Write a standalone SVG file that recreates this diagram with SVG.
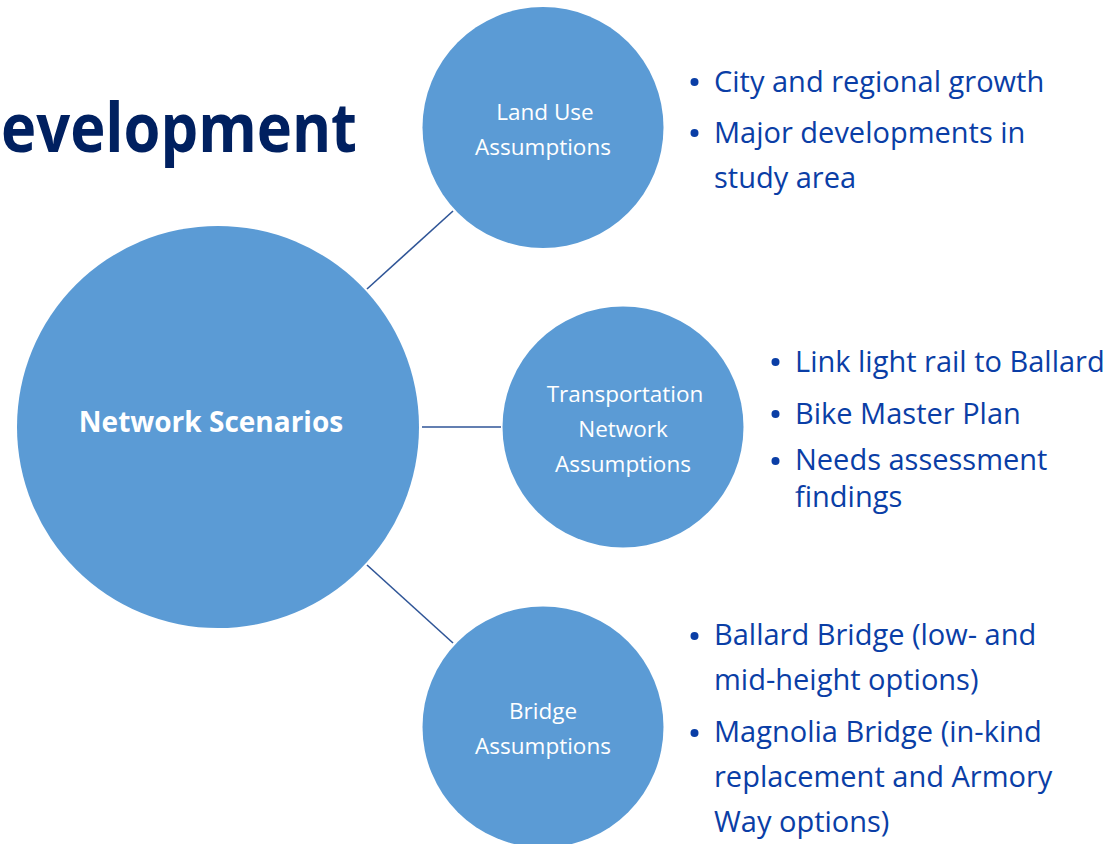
<svg xmlns="http://www.w3.org/2000/svg" width="1119" height="844" viewBox="0 0 1119 844">
<style>
.node{fill:#5b9bd5}
.lbl{font-family:"Open Sans","Noto Sans",sans-serif;font-size:22.5px;fill:#ffffff;text-anchor:middle}
.lbl.main{font-size:28px;font-weight:bold}
.bul{font-family:"Open Sans","Noto Sans",sans-serif;font-size:29px;fill:#0a3ea6}
.dot{fill:#0a3ea6}
.conn line{stroke:#2f5597;stroke-width:1.6}
</style>
<rect width="1119" height="844" fill="#ffffff"/>
<text x="1" y="152" font-family="Open Sans, Noto Sans, sans-serif" font-weight="bold" font-size="68" fill="#002060" textLength="356" lengthAdjust="spacingAndGlyphs">evelopment</text>
<g class="conn">
<line x1="367" y1="289" x2="453" y2="211"/>
<line x1="422" y1="427" x2="501" y2="427"/>
<line x1="367" y1="565" x2="453" y2="643"/>
</g>
<g id="network-scenarios">
<circle class="node" cx="218" cy="427" r="201"/>
<text class="lbl main" x="211" y="432">Network Scenarios</text>
</g>
<g id="land-use">
<circle class="node" cx="543" cy="127.5" r="120.5"/>
<text class="lbl" x="545" y="120">Land Use</text>
<text class="lbl" x="543" y="155">Assumptions</text>
</g>
<g id="transportation">
<circle class="node" cx="623" cy="427" r="120.5"/>
<text class="lbl" x="625" y="402">Transportation</text>
<text class="lbl" x="623" y="437">Network</text>
<text class="lbl" x="623" y="472">Assumptions</text>
</g>
<g id="bridge">
<circle class="node" cx="543" cy="727" r="120.5"/>
<text class="lbl" x="543" y="719">Bridge</text>
<text class="lbl" x="543" y="754">Assumptions</text>
</g>
<g id="land-use-bullets">
<circle class="dot" cx="694.5" cy="82" r="4"/>
<text class="bul" x="714" y="92">City and regional growth</text>
<circle class="dot" cx="694.5" cy="133" r="4"/>
<text class="bul" x="714" y="143">Major developments in</text>
<text class="bul" x="714" y="188">study area</text>
</g>
<g id="transportation-bullets">
<circle class="dot" cx="775.5" cy="362" r="4"/>
<text class="bul" x="795" y="372">Link light rail to Ballard</text>
<circle class="dot" cx="775.5" cy="414" r="4"/>
<text class="bul" x="795" y="424">Bike Master Plan</text>
<circle class="dot" cx="775.5" cy="461" r="4"/>
<text class="bul" x="795" y="470">Needs assessment</text>
<text class="bul" x="795" y="507">findings</text>
</g>
<g id="bridge-bullets">
<circle class="dot" cx="694.5" cy="636" r="4"/>
<text class="bul" x="714" y="645">Ballard Bridge (low- and</text>
<text class="bul" x="714" y="690">mid-height options)</text>
<circle class="dot" cx="694.5" cy="733" r="4"/>
<text class="bul" x="714" y="742">Magnolia Bridge (in-kind</text>
<text class="bul" x="714" y="787">replacement and Armory</text>
<text class="bul" x="714" y="832">Way options)</text>
</g>
</svg>
